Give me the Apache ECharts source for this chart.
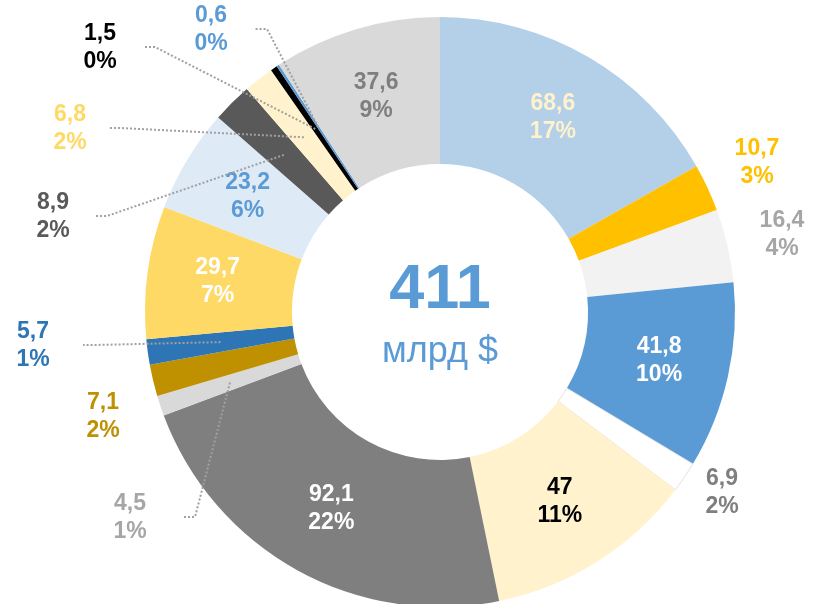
<!DOCTYPE html>
<html>
<head>
<meta charset="utf-8">
<script src="https://cdn.jsdelivr.net/npm/echarts@6/dist/echarts.min.js"></script>
<style>
  html, body { margin: 0; padding: 0; background: #fff; }
  #chart { width: 819px; height: 604px; }
</style>
</head>
<body>
<div id="chart"></div>
<script>
// значения по сегментам, по часовой стрелке от 12 часов
let values = [68.6, 10.7, 16.4, 41.8, 6.9, 47, 92.1, 4.5, 7.1, 5.7, 29.7, 23.2, 8.9, 6.8, 1.5, 0.6, 37.6]
let total = 411 // млрд $
let totalUnit = 'млрд $'

// цвета сегментов и подписей
let sliceColors = ['#b4cfe8', '#ffc000', '#f2f2f2', '#5b9bd5', '#ffffff', '#fff2cc', '#7f7f7f', '#d9d9d9',
    '#bf9000', '#2e75b6', '#ffd966', '#deebf7', '#595959', '#fff2cc', '#000000', '#5b9bd5', '#d9d9d9']
let labelColors = ['#fff2cc', '#ffc000', '#a6a6a6', '#ffffff', '#7f7f7f', '#000000', '#ffffff', '#a6a6a6',
    '#bf9000', '#2e75b6', '#ffffff', '#5b9bd5', '#595959', '#ffd966', '#000000', '#5b9bd5', '#7f7f7f']

// подписи снаружи кольца: индекс -> [x, y] центра подписи
let outsideSpots = {
    1: [757, 163], 2: [782, 235], 4: [722, 493], 7: [130, 518], 8: [103, 417],
    9: [33, 346], 12: [53, 217], 13: [70, 129], 14: [100, 48], 15: [211, 30]
}
// выноски: индекс -> x начала линии у подписи
let leaderStart = { 7: 183, 9: 83, 12: 95, 13: 108, 14: 143, 15: 255 }

let cx = 440, cy = 312, rIn = 148, rOut = 295
let valueSum = values.reduce((a, b) => a + b, 0)

function fmt(v) {
    return String(v).replace('.', ',') + '\n' + Math.round(v / total * 100) + '%'
}

// точка на средней линии кольца в середине сегмента
function midPoint(idx) {
    let before = 0
    for (let i = 0; i < idx; i++) before += values[i]
    let a = (before + values[idx] / 2) / valueSum * Math.PI * 2
    let r = (rIn + rOut) / 2
    return [cx + r * Math.sin(a), cy - r * Math.cos(a)]
}

let labelFont = {
    formatter: p => fmt(p.value),
    fontFamily: '"Liberation Sans", Arial',
    fontWeight: 'bold',
    fontSize: 23,
    lineHeight: 28,
    align: 'center'
}

// кольцо с подписями внутри
let ringData = values.map((v, i) => {
    let outside = outsideSpots[i] !== undefined
    return {
        value: v,
        itemStyle: {
            color: sliceColors[i],
            borderColor: i === 4 ? '#e3e3e3' : sliceColors[i],
            borderWidth: i === 4 ? 1 : 0
        },
        label: { show: !outside, color: labelColors[i] }
    }
})

// прозрачное кольцо поверх: подписи снаружи и выноски
let outerData = values.map((v, i) => {
    let outside = outsideSpots[i] !== undefined
    return {
        value: v,
        label: { show: outside, color: labelColors[i] },
        labelLine: { show: leaderStart[i] !== undefined }
    }
})

var myChart = echarts.init(document.getElementById('chart'))

option = {
    backgroundColor: '#ffffff',
    animation: false,
    graphic: [
        {
            type: 'text', x: cx, y: 291,
            style: { text: String(total), font: 'bold 63px "Liberation Sans", Arial', fill: '#5b9bd5', align: 'center', verticalAlign: 'middle' }
        },
        {
            type: 'text', x: cx, y: 352,
            style: { text: totalUnit, font: '36px "Liberation Sans", Arial', fill: '#5b9bd5', align: 'center', verticalAlign: 'middle' }
        }
    ],
    series: [
        {
            type: 'pie',
            z: 2,
            center: [cx, cy],
            radius: [rIn, rOut],
            startAngle: 90,
            clockwise: true,
            avoidLabelOverlap: false,
            label: Object.assign({ position: 'inside' }, labelFont),
            labelLine: { show: false },
            data: ringData
        },
        {
            type: 'pie',
            z: 5,
            silent: true,
            center: [cx, cy],
            radius: [rIn, rOut],
            startAngle: 90,
            clockwise: true,
            avoidLabelOverlap: false,
            itemStyle: { color: 'rgba(0,0,0,0)', borderWidth: 0 },
            label: Object.assign({ position: 'outside' }, labelFont),
            labelLine: {
                lineStyle: { type: [2, 2], color: '#a0a0a0', width: 2, opacity: 1 }
            },
            labelLayout: function (params) {
                let i = params.dataIndex
                let spot = outsideSpots[i]
                if (!spot) return
                let res = { x: spot[0], y: spot[1], align: 'center', verticalAlign: 'middle' }
                if (leaderStart[i] !== undefined) {
                    let sx = leaderStart[i]
                    let sy = spot[1] - 1
                    res.labelLinePoints = [midPoint(i), [sx + 12, sy], [sx, sy]]
                }
                return res
            },
            data: outerData
        }
    ]
}

myChart.setOption(option)
</script>
</body>
</html>
